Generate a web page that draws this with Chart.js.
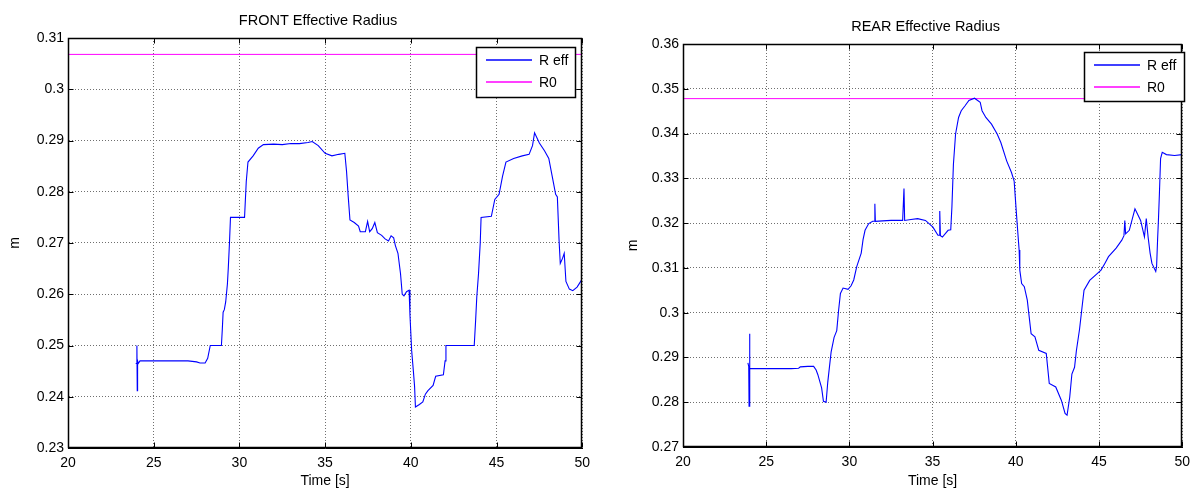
<!DOCTYPE html>
<html>
<head>
<meta charset="utf-8">
<script src="https://cdn.jsdelivr.net/npm/chart.js@4.4.0/dist/chart.umd.min.js"></script>
<style>
  html, body { margin: 0; padding: 0; background: #fff; }
  canvas { position: absolute; top: 0; }
</style>
</head>
<body>
<canvas id="front" style="left:0" width="597" height="491"></canvas>
<canvas id="rear" style="left:597px" width="600" height="491"></canvas>
<script>
// shared x axis
const xTicks = [20, 25, 30, 35, 40, 45, 50]

// FRONT wheel
const frontYTicks = [0.23, 0.24, 0.25, 0.26, 0.27, 0.28, 0.29, 0.30, 0.31]
const frontR0 = 0.3068
const frontTime = [
  23.95, 24.00, 24.02, 24.04, 24.06, 24.10, 24.2, 25.0, 26.0, 27.0,
  27.5, 27.7, 28.0, 28.15, 28.3, 28.95, 29.0, 29.05, 29.12, 29.2,
  29.3, 29.35, 29.42, 29.48, 30.3, 30.4, 30.5, 30.8, 31.1, 31.4,
  32.0, 32.5, 33.0, 33.5, 34.0, 34.25, 34.6, 35.0, 35.4, 35.8,
  36.15, 36.25, 36.35, 36.45, 36.7, 36.95, 37.05, 37.35, 37.48, 37.6,
  37.75, 37.9, 38.05, 38.3, 38.5, 38.7, 38.85, 39.0, 39.1, 39.25,
  39.4, 39.5, 39.6, 39.75, 39.9, 39.95, 40.05, 40.15, 40.22, 40.27,
  40.5, 40.7, 40.85, 41.0, 41.3, 41.45, 41.9, 42.0, 42.05, 43.7,
  43.78, 43.85, 43.95, 44.05, 44.1, 44.7, 44.9, 45.15, 45.35, 45.55,
  46.0, 46.5, 46.9, 47.1, 47.22, 47.5, 47.8, 48.05, 48.25, 48.45,
  48.55, 48.65, 48.72, 48.85, 48.95, 49.05, 49.25, 49.45, 49.7, 49.95
]
const frontReff = [
  0.2465, 0.2465, 0.2500, 0.2412, 0.2470, 0.2465, 0.2470, 0.2470, 0.2470, 0.2470,
  0.2468, 0.2466, 0.2466, 0.2475, 0.2500, 0.2500, 0.2530, 0.2565, 0.2570, 0.2585,
  0.2620, 0.2650, 0.2700, 0.2750, 0.2750, 0.2820, 0.2858, 0.2870, 0.2885, 0.2892,
  0.2893, 0.2892, 0.2894, 0.2894, 0.2896, 0.2898, 0.2890, 0.2875, 0.2870, 0.2873,
  0.2875, 0.2840, 0.2790, 0.2745, 0.2740, 0.2733, 0.2722, 0.2722, 0.2742, 0.2722,
  0.2728, 0.2740, 0.2720, 0.2715, 0.2708, 0.2704, 0.2714, 0.2710, 0.2695, 0.2680,
  0.2640, 0.2600, 0.2597, 0.2605, 0.2608, 0.2560, 0.2490, 0.2450, 0.2420, 0.2380,
  0.2385, 0.2390, 0.2405, 0.2412, 0.2422, 0.2440, 0.2443, 0.2470, 0.2500, 0.2500,
  0.2548, 0.2595, 0.2640, 0.2700, 0.2750, 0.2752, 0.2785, 0.2795, 0.2830, 0.2858,
  0.2865, 0.2870, 0.2873, 0.2890, 0.2915, 0.2895, 0.2880, 0.2865, 0.2830, 0.2795,
  0.2790, 0.2705, 0.2660, 0.2670, 0.2680, 0.2625, 0.2610, 0.2607, 0.2614, 0.2627
]

// REAR wheel
const rearYTicks = [0.27, 0.28, 0.29, 0.30, 0.31, 0.32, 0.33, 0.34, 0.35, 0.36]
const rearR0 = 0.3478
const rearTime = [
  23.9, 23.95, 23.97, 24.0, 24.02, 24.5, 25.5, 26.5, 26.95, 27.05,
  27.5, 27.85, 28.0, 28.1, 28.33, 28.44, 28.6, 28.7, 28.9, 29.08,
  29.24, 29.35, 29.46, 29.62, 29.92, 30.1, 30.26, 30.44, 30.71, 30.82,
  30.94, 31.16, 31.4, 31.5, 31.53, 31.56, 32.0, 32.5, 33.2, 33.28,
  33.32, 33.7, 34.1, 34.57, 35.02, 35.32, 35.4, 35.43, 35.47, 35.59,
  35.93, 36.09, 36.16, 36.25, 36.38, 36.56, 36.72, 36.95, 37.18, 37.52,
  37.86, 37.97, 38.2, 38.54, 38.88, 39.1, 39.45, 39.74, 39.9, 39.97,
  40.08, 40.2, 40.24, 40.35, 40.51, 40.69, 40.92, 41.15, 41.38, 41.83,
  42.01, 42.4, 42.74, 42.96, 43.08, 43.24, 43.37, 43.53, 43.64, 43.83,
  43.98, 44.1, 44.44, 44.89, 45.12, 45.35, 45.57, 46.03, 46.37, 46.5,
  46.55, 46.6, 46.82, 47.16, 47.5, 47.73, 47.84, 47.95, 48.07, 48.18,
  48.41, 48.46, 48.52, 48.57, 48.63, 48.7, 48.8, 49.05, 49.54, 50.0
]
const rearReff = [
  0.2888, 0.2880, 0.2791, 0.2953, 0.2875, 0.2875, 0.2875, 0.2875, 0.2876, 0.2879,
  0.2880, 0.2880, 0.2872, 0.2862, 0.2832, 0.2802, 0.2800, 0.2845, 0.2912, 0.2945,
  0.2960, 0.3005, 0.3043, 0.3055, 0.3052, 0.3060, 0.3073, 0.3103, 0.3133, 0.3163,
  0.3184, 0.3199, 0.3204, 0.3204, 0.3243, 0.3204, 0.3205, 0.3206, 0.3206, 0.3277,
  0.3206, 0.3208, 0.3210, 0.3206, 0.3191, 0.3173, 0.3173, 0.3227, 0.3172, 0.3169,
  0.3184, 0.3185, 0.3236, 0.3331, 0.3399, 0.3436, 0.3451, 0.3462, 0.3474, 0.3479,
  0.3470, 0.3451, 0.3436, 0.3421, 0.3399, 0.3380, 0.3339, 0.3313, 0.3294, 0.3257,
  0.3199, 0.3140, 0.3095, 0.3065, 0.3058, 0.3028, 0.2953, 0.2946, 0.2916, 0.2909,
  0.2842, 0.2834, 0.2804, 0.2775, 0.2771, 0.2811, 0.2863, 0.2878, 0.2915, 0.2963,
  0.3012, 0.3050, 0.3072, 0.3087, 0.3095, 0.3110, 0.3125, 0.3144, 0.3162, 0.3172,
  0.3206, 0.3176, 0.3184, 0.3232, 0.3206, 0.3169, 0.3210, 0.3169, 0.3133, 0.3110,
  0.3092, 0.3103, 0.3163, 0.3206, 0.3266, 0.3344, 0.3358, 0.3353, 0.3351, 0.3353
]

const FONT = 'Helvetica, "Liberation Sans", Arial, sans-serif'

// MATLAB-ish axes box: full frame, inward ticks, title and legend
const matlabBox = {
  id: 'matlabBox',
  afterDraw(chart, args, opts) {
    const ctx = chart.ctx
    const a = chart.chartArea
    const L = Math.round(a.left) + 0.5, R = Math.round(a.right) - 0.5
    const T = Math.round(a.top) + 0.5, B = Math.round(a.bottom) - 0.5
    ctx.save()
    ctx.strokeStyle = '#000'
    ctx.lineWidth = 1
    // inward tick marks on all four sides
    ctx.beginPath()
    chart.scales.x.ticks.forEach(t => {
      const px = Math.round(chart.scales.x.getPixelForValue(t.value)) + 0.5
      ctx.moveTo(px, B); ctx.lineTo(px, B - 5)
      ctx.moveTo(px, T); ctx.lineTo(px, T + 5)
    })
    chart.scales.y.ticks.forEach(t => {
      const py = Math.round(chart.scales.y.getPixelForValue(t.value)) + 0.5
      ctx.moveTo(L, py); ctx.lineTo(L + 5, py)
      ctx.moveTo(R, py); ctx.lineTo(R - 5, py)
    })
    ctx.stroke()
    ctx.lineWidth = 1.5
    ctx.strokeRect(L, T, R - L, B - T)

    // title, sitting a little left of the axes centre
    ctx.fillStyle = '#000'
    ctx.font = '14.5px ' + FONT
    ctx.textAlign = 'center'
    ctx.textBaseline = 'middle'
    ctx.fillText(opts.title, (a.left + a.right) / 2 - 7, opts.titleY)

    // legend box
    const lg = opts.legend
    ctx.fillStyle = '#fff'
    ctx.fillRect(lg.x, lg.y, lg.w, lg.h)
    ctx.lineWidth = 1.5
    ctx.strokeRect(lg.x + 0.5, lg.y + 0.5, lg.w, lg.h)
    ctx.font = '14px ' + FONT
    ctx.textAlign = 'left'
    chart.data.datasets.forEach((ds, i) => {
      const y = lg.y + 13 + i * 22
      ctx.strokeStyle = ds.borderColor
      ctx.lineWidth = 1.3
      ctx.beginPath()
      ctx.moveTo(lg.x + 10, y); ctx.lineTo(lg.x + 56, y)
      ctx.stroke()
      ctx.fillStyle = '#000'
      ctx.fillText(ds.label, lg.x + 63, y + 1)
    })
    ctx.restore()
  }
}

function tickFont() {
  return { family: FONT, size: 14 }
}

function makeChart(id, c) {
  return new Chart(document.getElementById(id), {
    type: 'line',
    data: {
      datasets: [
        {
          label: 'R eff',
          data: c.time.map((t, i) => ({ x: t, y: c.reff[i] })),
          borderColor: '#0000ff',
          borderWidth: 1.1
        },
        {
          label: 'R0',
          data: [{ x: xTicks[0], y: c.r0 }, { x: xTicks[xTicks.length - 1], y: c.r0 }],
          borderColor: '#ff00ff',
          borderWidth: 1
        }
      ]
    },
    options: {
      responsive: false,
      animation: false,
      elements: { point: { radius: 0 }, line: { tension: 0 } },
      layout: { padding: c.pad },
      plugins: {
        legend: { display: false },
        tooltip: { enabled: false },
        matlabBox: { title: c.title, titleY: c.titleY, legend: c.legend }
      },
      scales: {
        x: {
          type: 'linear',
          min: xTicks[0],
          max: xTicks[xTicks.length - 1],
          afterBuildTicks: s => { s.ticks = xTicks.map(v => ({ value: v })) },
          afterFit: s => { s.height = c.xh },
          ticks: { color: '#000', font: tickFont(), padding: 7, maxRotation: 0 },
          grid: { color: '#6f6f6f', drawTicks: false },
          border: { color: '#000', width: 1, dash: [1, 2] },
          title: { display: true, text: 'Time [s]', color: '#000', font: tickFont(), padding: { bottom: 1 } }
        },
        y: {
          min: c.yTicks[0],
          max: c.yTicks[c.yTicks.length - 1],
          afterBuildTicks: s => { s.ticks = c.yTicks.map(v => ({ value: v })) },
          afterFit: s => { s.width = c.yw },
          ticks: { color: '#000', font: tickFont(), padding: 4, callback: v => String(+v.toFixed(2)) },
          grid: { color: '#6f6f6f', drawTicks: false },
          border: { color: '#000', width: 1, dash: [1, 2] },
          title: { display: true, text: 'm', color: '#000', font: tickFont(), padding: { top: c.mPad } }
        }
      }
    },
    plugins: [matlabBox]
  })
}

makeChart('front', {
  time: frontTime, reff: frontReff, r0: frontR0, yTicks: frontYTicks,
  title: 'FRONT Effective Radius', titleY: 21,
  pad: { left: 0, top: 38, right: 14, bottom: 0 }, yw: 68, xh: 43, mPad: 7,
  legend: { x: 476, y: 47, w: 99, h: 50 }
})

makeChart('rear', {
  time: rearTime, reff: rearReff, r0: rearR0, yTicks: rearYTicks,
  title: 'REAR Effective Radius', titleY: 27,
  pad: { left: 0, top: 44, right: 8, bottom: 0 }, yw: 86, xh: 44, mPad: 28,
  legend: { x: 487, y: 52, w: 100, h: 49 }
})
</script>
</body>
</html>
